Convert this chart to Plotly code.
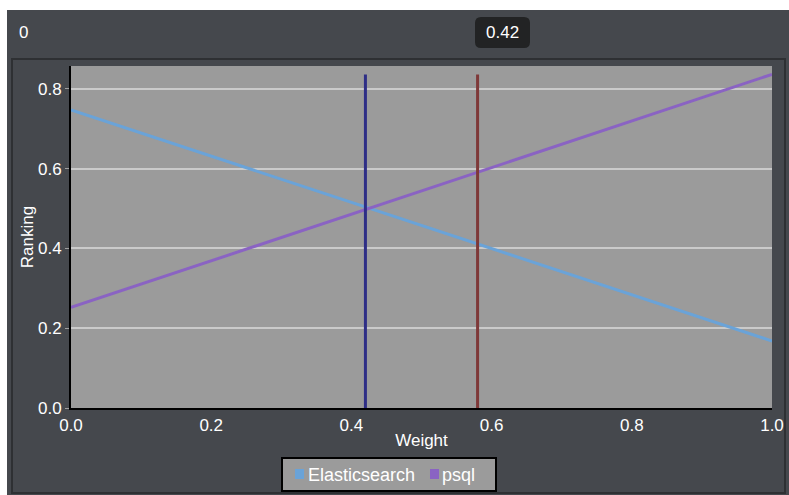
import plotly.graph_objects as go

weights = [0.0, 1.0]
elastic = [0.747, 0.168]
psql = [0.252, 0.836]
marker_lo = 0.42
marker_hi = 0.58
marker_top = 0.836
slider_label = "0.42"
slider_min = "0"
series_names = ["Elasticsearch", "psql"]
series_colors = ["#6aa3d8", "#8a63c3"]

W, H = 789, 495
L, R, T, B = 71, 17, 66, 87
pw, ph = W - L - R, H - T - B


def px(x):
    return (x - L) / pw


def py(y):
    return (H - B - y) / ph


dark = "#45484d"
FS = 17
font = dict(family="Liberation Sans, Arial, sans-serif", size=FS, color="white")
legfont = dict(family="Liberation Sans, Arial, sans-serif", size=18, color="white")

fig = go.Figure()
fig.add_trace(go.Scatter(x=weights, y=elastic, mode="lines", line=dict(color=series_colors[0], width=3),
                         name=series_names[0], showlegend=False, hoverinfo="skip"))
fig.add_trace(go.Scatter(x=weights, y=psql, mode="lines", line=dict(color=series_colors[1], width=3),
                         name=series_names[1], showlegend=False, hoverinfo="skip"))
fig.add_trace(go.Scatter(x=[marker_lo, marker_lo], y=[0, marker_top], mode="lines",
                         line=dict(color="#2e2e86", width=3), showlegend=False, hoverinfo="skip"))
fig.add_trace(go.Scatter(x=[marker_hi, marker_hi], y=[0, marker_top], mode="lines",
                         line=dict(color="#7e3838", width=3), showlegend=False, hoverinfo="skip"))


def rounded_rect(x0, y0, x1, y1, r):
    rx, ry = r / pw, r / ph
    X0, X1 = px(x0), px(x1)
    Y0, Y1 = py(y0), py(y1)
    return (f"M {X0+rx},{Y0} L {X1-rx},{Y0} Q {X1},{Y0} {X1},{Y0-ry} "
            f"L {X1},{Y1+ry} Q {X1},{Y1} {X1-rx},{Y1} "
            f"L {X0+rx},{Y1} Q {X0},{Y1} {X0},{Y1+ry} "
            f"L {X0},{Y0-ry} Q {X0},{Y0} {X0+rx},{Y0} Z")


shapes = [
    dict(type="rect", xref="paper", yref="paper", x0=px(-5), x1=px(W + 5), y0=py(10), y1=py(-5),
         fillcolor="white", line=dict(width=0), layer="below"),
    dict(type="rect", xref="paper", yref="paper", x0=px(-5), x1=px(7), y0=py(H + 5), y1=py(-5),
         fillcolor="white", line=dict(width=0), layer="below"),
    dict(type="rect", xref="paper", yref="paper", x0=px(12), x1=px(785), y0=py(59), y1=py(493),
         fillcolor="rgba(0,0,0,0)", line=dict(color="#2e3033", width=2), layer="below"),
    dict(type="path", xref="paper", yref="paper", path=rounded_rect(475, 17, 530, 48, 6),
         fillcolor="#222324", line=dict(width=0), layer="above"),
    dict(type="rect", xref="paper", yref="paper", x0=px(282), x1=px(496), y0=py(458), y1=py(491),
         fillcolor="#9b9b9b", line=dict(color="black", width=2), layer="above"),
    dict(type="rect", xref="paper", yref="paper", x0=px(295), x1=px(304), y0=py(469), y1=py(479),
         fillcolor=series_colors[0], line=dict(width=0), layer="above"),
    dict(type="rect", xref="paper", yref="paper", x0=px(430), x1=px(439), y0=py(469), y1=py(479),
         fillcolor=series_colors[1], line=dict(width=0), layer="above"),
]

annotations = [
    dict(text=slider_min, xref="paper", yref="paper", x=px(17), y=py(32), xanchor="left", yanchor="middle",
         showarrow=False, font=font),
    dict(text=slider_label, xref="paper", yref="paper", x=px(503), y=py(33), xanchor="center", yanchor="middle",
         showarrow=False, font=font),
    dict(text=series_names[0], xref="paper", yref="paper", x=px(306), y=py(475), xanchor="left",
         yanchor="middle", showarrow=False, font=legfont),
    dict(text=series_names[1], xref="paper", yref="paper", x=px(440), y=py(475), xanchor="left",
         yanchor="middle", showarrow=False, font=legfont),
]

fig.update_layout(
    width=W, height=H,
    margin=dict(l=L, r=R, t=T, b=B),
    paper_bgcolor=dark,
    plot_bgcolor="#9b9b9b",
    font=font,
    shapes=shapes,
    annotations=annotations,
    showlegend=False,
    xaxis=dict(range=[0, 1], tickvals=[0, 0.2, 0.4, 0.6, 0.8, 1.0],
               ticktext=["0.0", "0.2", "0.4", "0.6", "0.8", "1.0"],
               showgrid=False, zeroline=False, showline=True, linecolor="black", linewidth=2,
               ticks="outside", ticklen=1, tickcolor=dark, tickfont=font, automargin=False,
               title=dict(text="Weight", font=font, standoff=0)),
    yaxis=dict(range=[0, 0.857], tickvals=[0, 0.2, 0.4, 0.6, 0.8],
               ticktext=["0.0", "0.2", "0.4", "0.6", "0.8"],
               showgrid=True, gridcolor="#cacaca", gridwidth=1.5, zeroline=False,
               showline=True, linecolor="black", linewidth=2,
               ticks="outside", ticklen=4, tickcolor="#a0a0a0", tickfont=font, automargin=False,
               title=dict(text="Ranking", font=font, standoff=0)),
)

fig.write_html("out.html", config={"displayModeBar": False},
               post_script="document.body.style.margin='0';document.body.style.overflow='hidden';")
